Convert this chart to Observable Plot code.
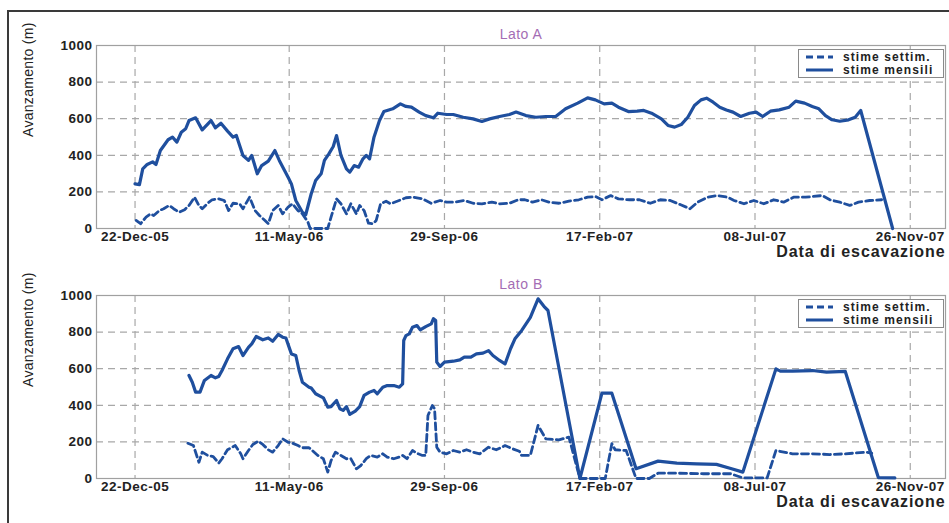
<!DOCTYPE html>
<html>
<head>
<meta charset="utf-8">
<script src="https://cdn.jsdelivr.net/npm/d3@7"></script>
<script src="https://cdn.jsdelivr.net/npm/@observablehq/plot@0.6"></script>
<style>
  html, body { margin: 0; padding: 0; background: #fff; }
  #wrap { position: relative; width: 949px; height: 523px; overflow: hidden; background: #fff; font-family: "Liberation Sans", Arial, sans-serif; }
  #border { position: absolute; left: 7px; top: 10px; width: 960px; height: 540px; border-top: 2px solid #3a3a3a; border-left: 2px solid #3a3a3a; }
  .panel { position: absolute; left: 0; }
  .legend { position: absolute; left: 798px; width: 144px; height: 27px; border: 1px solid #8a8a8a; background: #fff; font-weight: bold; font-size: 12px; color: #222; letter-spacing: 1.1px; }
  .legend .row { position: absolute; left: 0; height: 12px; line-height: 12px; white-space: nowrap; }
  .legend svg { position: absolute; left: 7px; top: 0; }
  .legend span { position: absolute; left: 44px; top: 0; }
</style>
</head>
<body>
<div id="wrap">
  <div id="border"></div>
</div>
<script>
// ---- data: [days since 22-Dec-2005, metres] ----
const baseDate = "2005-12-22";
const domainDates = ["2005-11-17", "2007-12-28"];
const tickDates = ["2005-12-22", "2006-05-11", "2006-09-29", "2007-02-17", "2007-07-08", "2007-11-26"];
const yTicks = [0, 200, 400, 600, 800, 1000];
const gridYTicks = [200, 400, 600, 800];
const titles = ["Lato A", "Lato B"];
const seriesNames = ["stime settim.", "stime mensili"];
const yLabel = "Avanzamento (m)";
const xLabel = "Data di escavazione";

const latoA_mensili = [[0,244],[4,240],[7,326],[11,350],[16,364],[19,350],[23,426],[30,485],[34,499],[38,472],[42,526],[46,545],[49,590],[55,605],[61,539],[69,590],[73,550],[78,575],[84,532],[89,499],[92,508],[98,399],[103,372],[106,399],[111,299],[115,344],[121,368],[127,426],[131,372],[139,280],[142,244],[146,153],[152,89],[155,75],[160,190],[164,262],[169,299],[172,372],[176,408],[180,448],[183,508],[187,399],[192,326],[195,308],[199,344],[203,335],[207,381],[210,399],[213,381],[217,499],[222,590],[226,639],[234,654],[241,681],[246,667],[251,663],[258,636],[264,617],[271,605],[275,630],[283,623],[289,623],[298,608],[307,599],[315,585],[322,599],[331,612],[340,623],[346,636],[355,617],[364,608],[373,612],[382,612],[391,654],[402,685],[411,714],[418,703],[426,681],[433,685],[439,663],[448,639],[456,641],[462,645],[469,630],[478,599],[484,563],[490,554],[496,568],[502,608],[508,672],[514,703],[519,712],[525,690],[531,663],[537,648],[543,636],[550,612],[558,630],[564,636],[570,612],[577,641],[585,648],[594,663],[600,696],[608,685],[615,667],[621,654],[627,617],[633,594],[640,586],[648,594],[654,608],[659,645],[688,0]];

const latoA_settim = [[1,44],[5,26],[10,62],[14,80],[17,71],[22,98],[26,108],[31,126],[35,108],[40,89],[45,103],[49,126],[54,171],[58,126],[61,108],[66,138],[70,157],[76,162],[81,153],[85,98],[89,138],[95,135],[98,108],[104,171],[109,98],[113,71],[118,44],[121,26],[125,98],[130,126],[134,80],[139,117],[143,135],[148,98],[152,80],[157,35],[159,0],[175,0],[178,62],[183,162],[187,135],[192,80],[196,135],[201,80],[204,126],[208,98],[212,29],[216,26],[219,44],[223,135],[228,149],[232,135],[238,149],[246,168],[253,171],[261,162],[269,138],[277,153],[283,144],[290,144],[299,153],[307,138],[315,135],[324,144],[331,135],[340,138],[348,157],[354,157],[361,144],[369,157],[376,144],[385,138],[394,149],[403,157],[411,171],[418,175],[424,157],[432,180],[439,162],[449,157],[458,157],[468,138],[477,157],[486,153],[495,131],[504,108],[511,144],[520,171],[529,180],[538,171],[544,153],[553,135],[562,153],[571,135],[580,157],[589,144],[598,171],[609,171],[624,180],[631,157],[640,144],[649,126],[657,144],[667,153],[678,157]];

const latoB_mensili = [[49,563],[52,526],[55,472],[59,472],[63,536],[69,563],[73,550],[76,557],[79,590],[84,654],[89,709],[94,721],[98,672],[103,717],[106,736],[110,776],[116,758],[121,768],[125,750],[130,787],[134,772],[137,768],[142,681],[146,672],[149,590],[152,526],[158,499],[160,494],[164,463],[171,441],[175,390],[178,393],[183,426],[186,381],[189,372],[192,393],[195,350],[200,368],[204,393],[208,454],[213,472],[217,481],[220,463],[225,499],[229,508],[235,508],[240,499],[243,517],[244,754],[246,781],[249,790],[252,827],[256,836],[259,812],[264,830],[269,845],[271,873],[273,863],[274,636],[277,612],[281,636],[289,641],[295,648],[299,663],[305,663],[310,681],[316,685],[321,699],[325,672],[331,645],[336,626],[341,709],[345,763],[351,808],[359,881],[366,982],[372,936],[375,918],[404,0],[424,466],[433,466],[455,53],[475,95],[492,84],[510,80],[528,77],[541,55],[552,35],[582,599],[586,587],[597,587],[615,590],[628,581],[645,585],[675,5],[690,3]];

const latoB_settim = [[48,193],[53,180],[58,89],[61,144],[66,126],[71,120],[76,84],[79,108],[84,157],[91,180],[96,135],[98,108],[103,153],[107,186],[112,204],[116,186],[121,157],[125,144],[130,180],[134,217],[139,198],[143,193],[148,180],[152,168],[158,168],[161,153],[166,126],[171,108],[175,35],[178,98],[182,144],[187,126],[192,108],[196,108],[201,53],[205,71],[210,108],[214,126],[220,117],[225,135],[229,117],[235,108],[240,117],[243,126],[247,108],[252,153],[256,138],[261,126],[264,126],[266,344],[270,399],[272,381],[274,171],[277,144],[283,135],[289,153],[295,144],[301,157],[307,144],[313,135],[321,171],[328,157],[336,180],[343,162],[349,149],[351,126],[359,126],[366,290],[373,217],[385,211],[394,226],[404,0],[427,0],[433,190],[436,157],[446,153],[455,0],[467,0],[475,29],[492,29],[516,26],[541,26],[552,3],[574,3],[582,153],[597,135],[615,135],[631,131],[645,135],[664,144],[669,138]];

// ---- drawing ----
const lineColor = "#1f4f9e";
const parse = d3.utcParse("%Y-%m-%d");
const base = parse(baseDate);
const toDate = d => d3.utcDay.offset(base, d);
const xTicks = tickDates.map(parse);
const fmt = d3.utcFormat("%d-%b-%y");

function panel(title, weekly, monthly, marginTop, height) {
  const svg = Plot.plot({
    width: 949,
    height,
    marginLeft: 96,
    marginRight: 4,
    marginTop,
    marginBottom: height - marginTop - 183,
    x: { type: "utc", domain: domainDates.map(parse) },
    y: { domain: [0, 1000] },
    style: { fontFamily: "'Liberation Sans', Arial, sans-serif", fontSize: "13px", color: "#222", background: "transparent", overflow: "visible", letterSpacing: "0.5px" },
    marks: [
      Plot.gridX(xTicks, { stroke: "#a8a8a8", strokeOpacity: 1, strokeWidth: 1.2, strokeDasharray: "7,5" }),
      Plot.gridY(gridYTicks, { stroke: "#a8a8a8", strokeOpacity: 1, strokeWidth: 1.2, strokeDasharray: "7,5" }),
      Plot.frame({ stroke: "#a0a0a0", strokeWidth: 1.2 }),
      Plot.axisX(xTicks, { tickSize: 0, tickPadding: 3, tickFormat: fmt, fontWeight: "bold", fontSize: 13.5, label: null }),
      Plot.axisY(yTicks, { tickSize: 0, tickPadding: 4, tickFormat: d3.format("d"), fontWeight: "bold", fontSize: 13.5, label: null }),
      Plot.line(weekly, { x: d => toDate(d[0]), y: d => d[1], stroke: lineColor, strokeWidth: 2.8, strokeDasharray: "7,4" }),
      Plot.line(monthly, { x: d => toDate(d[0]), y: d => d[1], stroke: lineColor, strokeWidth: 3.2 }),
      Plot.text([title], { text: d => d, frameAnchor: "top", dy: -16, fill: "#a46db4", fontSize: 14 }),
      Plot.text([yLabel], { text: d => d, frameAnchor: "left", rotate: -90, dx: -68, fontSize: 14, fill: "#222" }),
      Plot.text([xLabel], { text: d => d, frameAnchor: "bottom-right", dx: 0, dy: 28, textAnchor: "end", fontWeight: "bold", fontSize: 16, fill: "#222" })
    ]
  });
  svg.querySelectorAll("text").forEach(t => {
    if (t.textContent === xLabel) t.style.letterSpacing = "0.9px";
    if (t.textContent === yLabel) t.style.letterSpacing = "0.3px";
  });
  return svg;
}

function legend(top) {
  const div = document.createElement("div");
  div.className = "legend";
  div.style.top = top + "px";
  const styles = ["7,4", null];
  seriesNames.forEach((name, i) => {
    const row = document.createElement("div");
    row.className = "row";
    row.style.top = (1 + i * 13) + "px";
    const dash = styles[i] ? `stroke-dasharray="${styles[i]}"` : "";
    row.innerHTML = `<svg width="30" height="12"><line x1="0" x2="27" y1="6" y2="6" stroke="${lineColor}" stroke-width="3" ${dash}/></svg><span>${name}</span>`;
    div.appendChild(row);
  });
  return div;
}

const wrap = document.getElementById("wrap");
const pA = panel(titles[0], latoA_settim, latoA_mensili, 45, 262);
pA.classList.add("panel"); pA.style.top = "0px";
const pB = panel(titles[1], latoB_settim, latoB_mensili, 35, 263);
pB.classList.add("panel"); pB.style.top = "260px";
wrap.appendChild(pA);
wrap.appendChild(pB);
wrap.appendChild(legend(49));
wrap.appendChild(legend(299));
</script>
</body>
</html>
